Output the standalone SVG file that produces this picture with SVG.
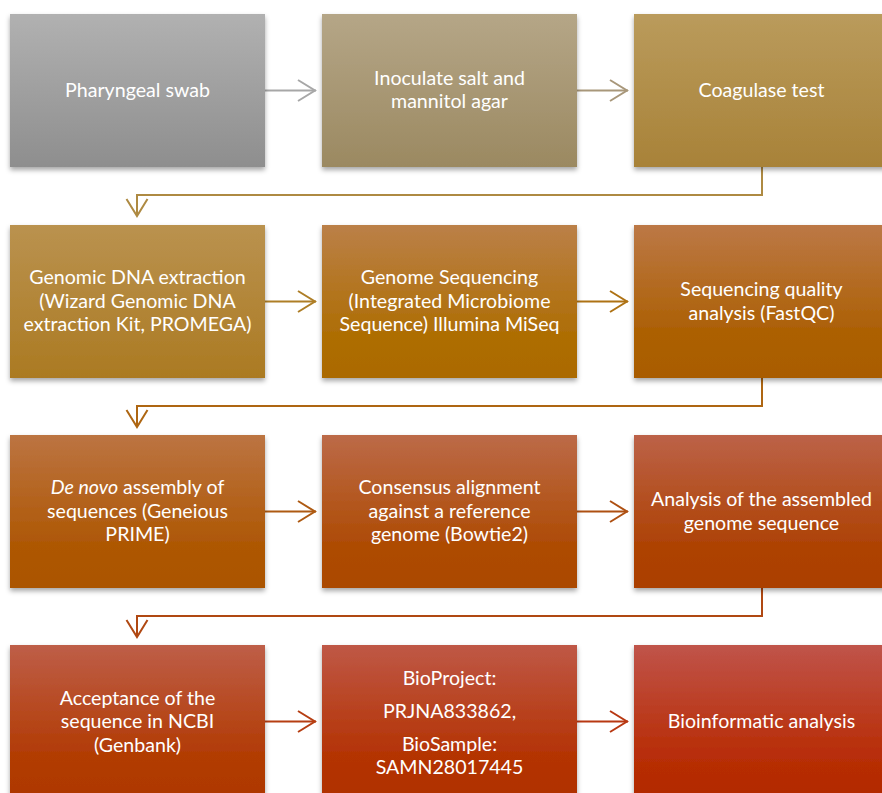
<svg xmlns="http://www.w3.org/2000/svg" width="882" height="793" viewBox="0 0 882 793">
<defs>
<filter id="sh" x="-10%" y="-10%" width="120%" height="125%">
<feDropShadow dx="0" dy="3" stdDeviation="2.5" flood-color="#000" flood-opacity="0.35"/>
</filter>
<linearGradient id="g1" x1="0" y1="0" x2="0" y2="1"><stop offset="0" stop-color="#b1b1b1"/><stop offset="1" stop-color="#8e8e8e"/></linearGradient>
<linearGradient id="g2" x1="0" y1="0" x2="0" y2="1"><stop offset="0" stop-color="#b5a687"/><stop offset="1" stop-color="#9b8961"/></linearGradient>
<linearGradient id="g3" x1="0" y1="0" x2="0" y2="1"><stop offset="0" stop-color="#ba9b5c"/><stop offset="1" stop-color="#a88238"/></linearGradient>
<linearGradient id="g4" x1="0" y1="0" x2="0" y2="1"><stop offset="0" stop-color="#ba924f"/><stop offset="1" stop-color="#ab7a22"/></linearGradient>
<linearGradient id="g5" x1="0" y1="0" x2="0" y2="1"><stop offset="0" stop-color="#bb8048"/><stop offset="0.7" stop-color="#ae6e06"/><stop offset="1" stop-color="#ab6a00"/></linearGradient>
<linearGradient id="g6" x1="0" y1="0" x2="0" y2="1"><stop offset="0" stop-color="#bc7846"/><stop offset="0.7" stop-color="#ac6004"/><stop offset="1" stop-color="#a95c00"/></linearGradient>
<linearGradient id="g7" x1="0" y1="0" x2="0" y2="1"><stop offset="0" stop-color="#bc7442"/><stop offset="0.7" stop-color="#ae5806"/><stop offset="1" stop-color="#ab5400"/></linearGradient>
<linearGradient id="g8" x1="0" y1="0" x2="0" y2="1"><stop offset="0" stop-color="#bc6a48"/><stop offset="0.7" stop-color="#ae4c06"/><stop offset="1" stop-color="#ab4800"/></linearGradient>
<linearGradient id="g9" x1="0" y1="0" x2="0" y2="1"><stop offset="0" stop-color="#bc6248"/><stop offset="0.7" stop-color="#ae4306"/><stop offset="1" stop-color="#ab3f00"/></linearGradient>
<linearGradient id="g10" x1="0" y1="0" x2="0" y2="1"><stop offset="0" stop-color="#be5e48"/><stop offset="0.7" stop-color="#b23c06"/><stop offset="1" stop-color="#ae3800"/></linearGradient>
<linearGradient id="g11" x1="0" y1="0" x2="0" y2="1"><stop offset="0" stop-color="#bf5846"/><stop offset="0.7" stop-color="#b43406"/><stop offset="1" stop-color="#b03000"/></linearGradient>
<linearGradient id="g12" x1="0" y1="0" x2="0" y2="1"><stop offset="0" stop-color="#c0544a"/><stop offset="0.7" stop-color="#b82e08"/><stop offset="1" stop-color="#b22a00"/></linearGradient>
</defs>
<style>
.box{filter:url(#sh)}
text{font-family:Lato,"Open Sans","Liberation Sans",sans-serif;font-size:19.6px;fill:#ffffff;text-anchor:middle}
</style>
<rect width="882" height="793" fill="#ffffff"/>
<g id="connectors">
<g stroke-width="2" fill="none">
<path d="M265,90.5 H316" stroke="#a7a7a7"/>
<path d="M298,80 L315,90.5 L298,101" stroke="#a7a7a7"/>
<path d="M577,90.5 H628" stroke="#a8977a"/>
<path d="M610,80 L627,90.5 L610,101" stroke="#a8977a"/>
<path d="M762,167 V195 H137 V216" stroke="#ae8a42"/>
<path d="M126.5,199 L137,216 L147.5,199" stroke="#ae8a42"/>
<path d="M265,301.5 H316" stroke="#ae7e26"/>
<path d="M298,291 L315,301.5 L298,312" stroke="#ae7e26"/>
<path d="M577,301.5 H628" stroke="#ae7214"/>
<path d="M610,291 L627,301.5 L610,312" stroke="#ae7214"/>
<path d="M762,378 V406 H137 V427" stroke="#ae6612"/>
<path d="M126.5,410 L137,427 L147.5,410" stroke="#ae6612"/>
<path d="M265,511.5 H316" stroke="#ae5a12"/>
<path d="M298,501 L315,511.5 L298,522" stroke="#ae5a12"/>
<path d="M577,511.5 H628" stroke="#ae5012"/>
<path d="M610,501 L627,511.5 L610,522" stroke="#ae5012"/>
<path d="M762,588 V616 H137 V637" stroke="#b04812"/>
<path d="M126.5,620 L137,637 L147.5,620" stroke="#b04812"/>
<path d="M265,721.5 H316" stroke="#b63e12"/>
<path d="M298,711 L315,721.5 L298,732" stroke="#b63e12"/>
<path d="M577,721.5 H628" stroke="#b83812"/>
<path d="M610,711 L627,721.5 L610,732" stroke="#b83812"/>
</g>
</g>
<g id="n1"><rect class="box" x="10" y="14" width="255" height="153" fill="url(#g1)"/><text x="137.5" y="97">Pharyngeal swab</text></g>
<g id="n2"><rect class="box" x="322" y="14" width="255" height="153" fill="url(#g2)"/><text x="449.5" y="85">Inoculate salt and</text><text x="449.5" y="108">mannitol agar</text></g>
<g id="n3"><rect class="box" x="634" y="14" width="255" height="153" fill="url(#g3)"/><text x="761.5" y="97">Coagulase test</text></g>
<g id="n4"><rect class="box" x="10" y="225" width="255" height="153" fill="url(#g4)"/><text x="137.5" y="284">Genomic DNA extraction</text><text x="137.5" y="307.5">(Wizard Genomic DNA</text><text x="137.5" y="331">extraction Kit, PROMEGA)</text></g>
<g id="n5"><rect class="box" x="322" y="225" width="255" height="153" fill="url(#g5)"/><text x="449.5" y="284">Genome Sequencing</text><text x="449.5" y="307.5">(Integrated Microbiome</text><text x="449.5" y="331">Sequence) Illumina MiSeq</text></g>
<g id="n6"><rect class="box" x="634" y="225" width="255" height="153" fill="url(#g6)"/><text x="761.5" y="296">Sequencing quality</text><text x="761.5" y="319.5">analysis (FastQC)</text></g>
<g id="n7"><rect class="box" x="10" y="435" width="255" height="153" fill="url(#g7)"/><text x="137.5" y="494"><tspan font-style="italic">De novo</tspan> assembly of</text><text x="137.5" y="517.5">sequences (Geneious</text><text x="137.5" y="541">PRIME)</text></g>
<g id="n8"><rect class="box" x="322" y="435" width="255" height="153" fill="url(#g8)"/><text x="449.5" y="494">Consensus alignment</text><text x="449.5" y="517.5">against a reference</text><text x="449.5" y="541">genome (Bowtie2)</text></g>
<g id="n9"><rect class="box" x="634" y="435" width="255" height="153" fill="url(#g9)"/><text x="761.5" y="506">Analysis of the assembled</text><text x="761.5" y="529.5">genome sequence</text></g>
<g id="n10"><rect class="box" x="10" y="645" width="255" height="153" fill="url(#g10)"/><text x="137.5" y="704.5">Acceptance of the</text><text x="137.5" y="728">sequence in NCBI</text><text x="137.5" y="751.5">(Genbank)</text></g>
<g id="n11"><rect class="box" x="322" y="645" width="255" height="153" fill="url(#g11)"/><text x="449.5" y="684.5">BioProject:</text><text x="449.5" y="717.5">PRJNA833862,</text><text x="449.5" y="750.5">BioSample:</text><text x="449.5" y="774">SAMN28017445</text></g>
<g id="n12"><rect class="box" x="634" y="645" width="255" height="153" fill="url(#g12)"/><text x="761.5" y="728">Bioinformatic analysis</text></g>
</svg>
